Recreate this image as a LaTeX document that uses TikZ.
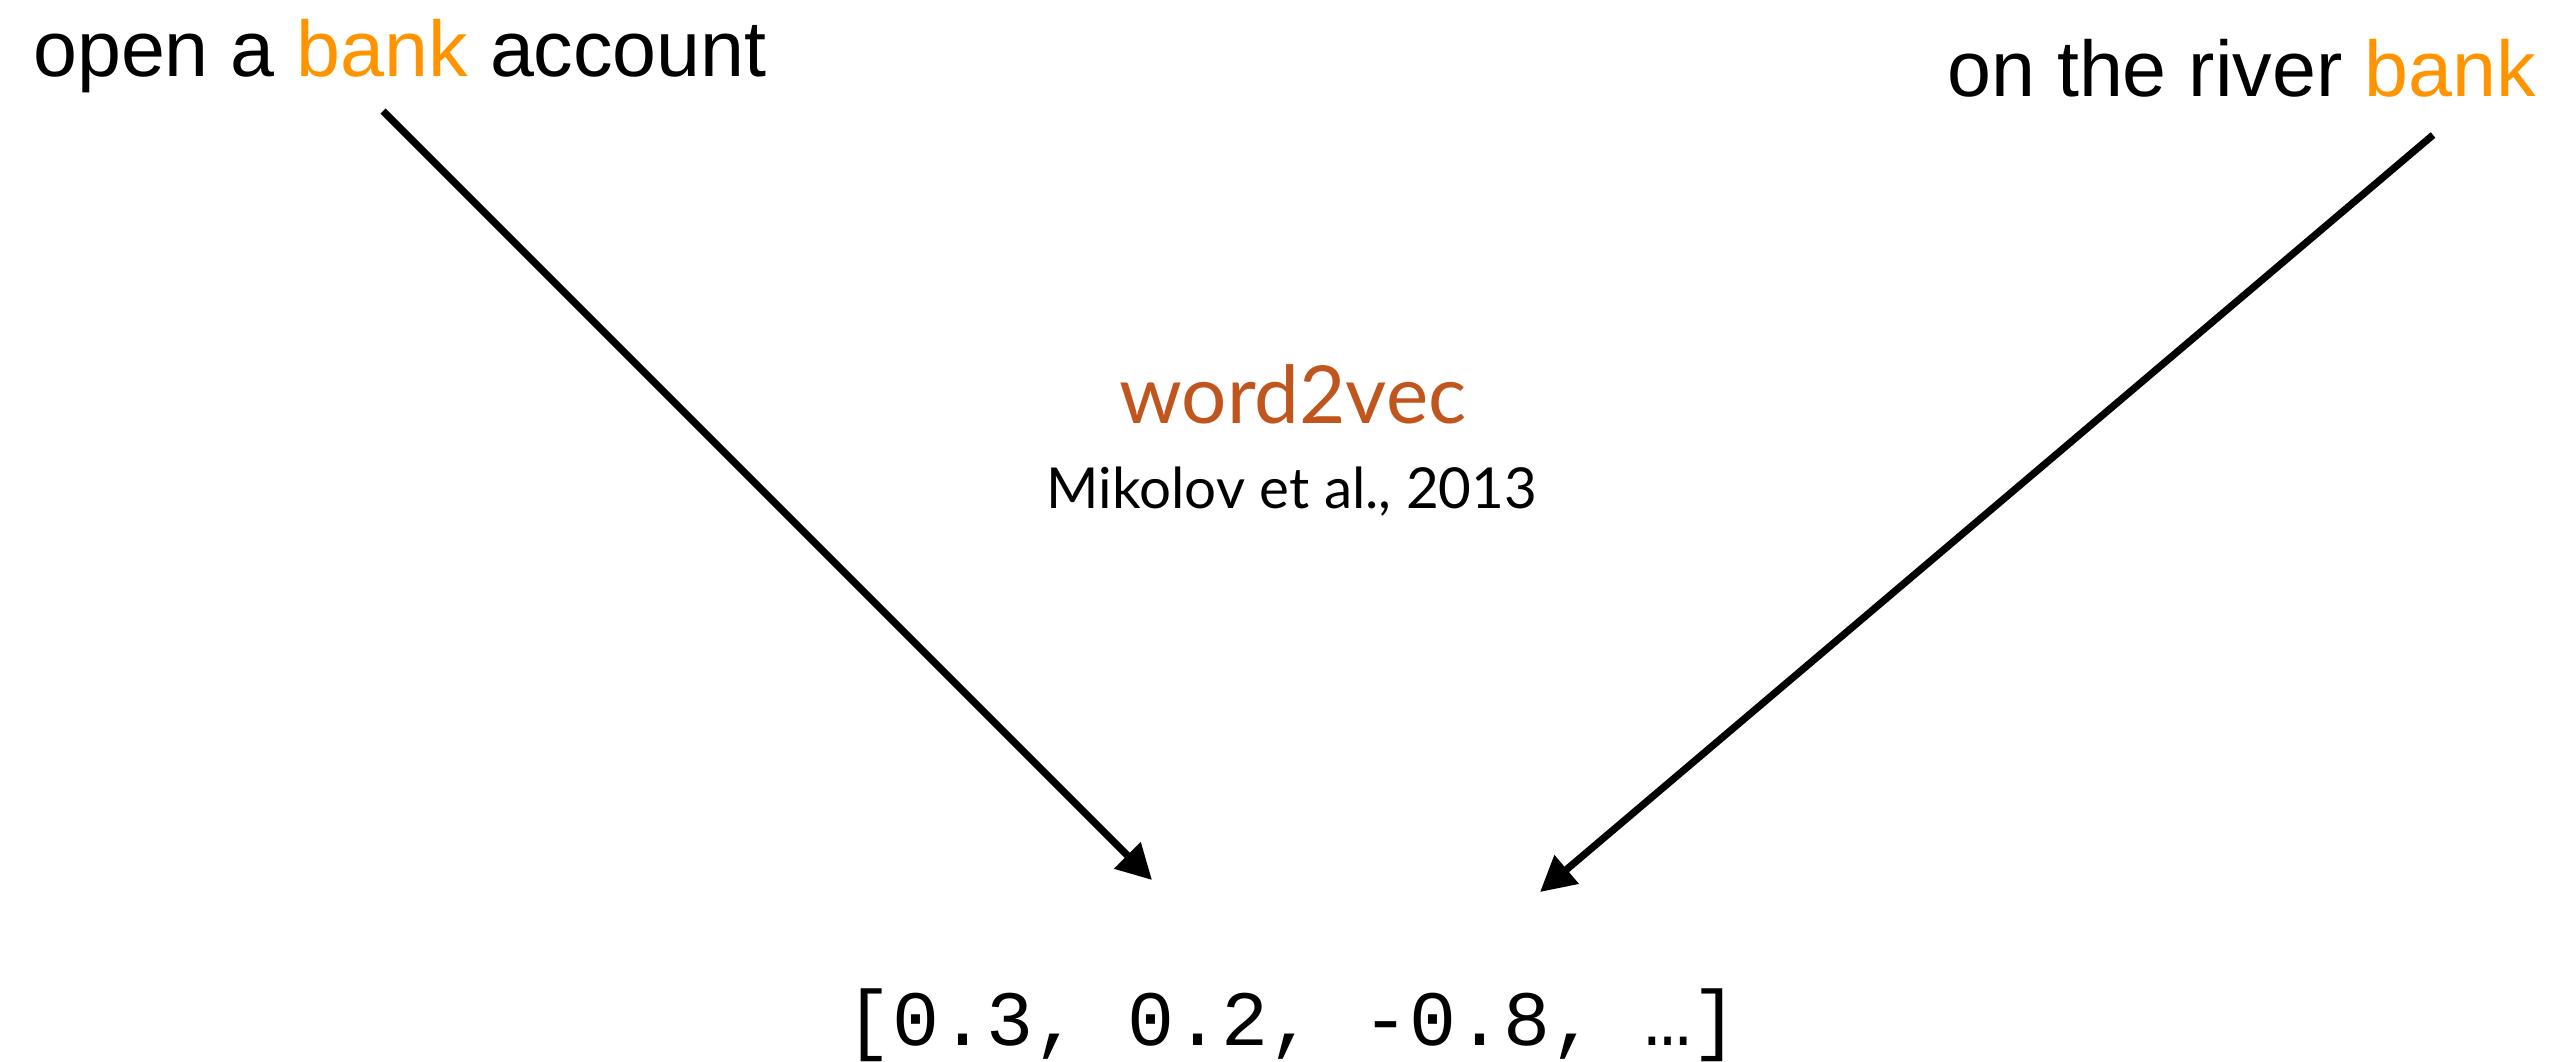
\documentclass[tikz,border=0pt]{standalone}
\usepackage{fontspec}
\setmainfont{Liberation Sans}
\newfontfamily\titlefont{Lato}
\newfontfamily\vecfont{Liberation Mono}
\usetikzlibrary{arrows.meta}
\definecolor{bankorange}{HTML}{FF9300}
\definecolor{methodbrown}{HTML}{C0561E}
\tikzset{
  phrase/.style={inner sep=0pt, font=\fontsize{79}{95}\selectfont},
  method/.style={inner sep=0pt, text=methodbrown, font=\titlefont\fontsize{80}{96}\selectfont},
  cite/.style={inner sep=0pt, font=\titlefont\fontsize{56.5}{68}\selectfont},
  vector/.style={inner sep=0pt, font=\vecfont\fontsize{78.3}{94}\selectfont},
  feed/.style={line width=7.2pt, -{Triangle[length=35pt,width=36pt]}},
}
\begin{document}
\begin{tikzpicture}[x=1pt,y=-1pt]
  \useasboundingbox (0,0) rectangle (2556,1061);

  % input phrases
  \node[phrase, anchor=base west] (left) at (33,76)
    {open a \textcolor{bankorange}{bank} account};
  \node[phrase, anchor=base east] (right) at (2536,96)
    {on the river \textcolor{bankorange}{bank}};

  % method label
  \node[method, anchor=base] (w2v) at (1293,423) {word2vec};
  \node[cite, anchor=base] (ref) at (1292,508) {Mikolov et al., 2013};

  % output embedding
  \node[vector, anchor=base] (vec) at (1292,1045) {[0.3, 0.2, -0.8, …]};

  % arrow end points
  \coordinate (leftstart) at (383,111);
  \coordinate (leftend) at (1152,880);
  \coordinate (rightstart) at (2433,135);
  \coordinate (rightend) at (1540,892);

  \draw[feed] (leftstart) -- (leftend);
  \draw[feed] (rightstart) -- (rightend);
\end{tikzpicture}
\end{document}
